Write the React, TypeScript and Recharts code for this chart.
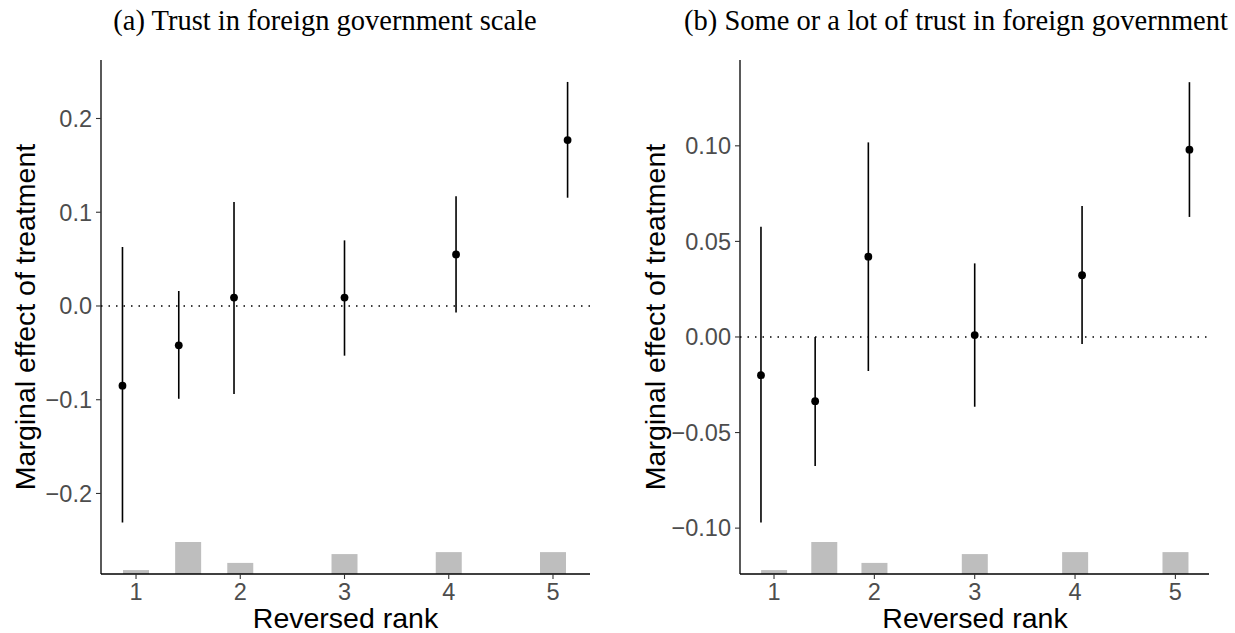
import React from 'react';
import { ComposedChart, Scatter, Bar, XAxis, YAxis, ReferenceLine, ErrorBar } from 'recharts';

// x positions (reversed rank) of the estimates and of the histogram bins
const rankTicks = [1, 2, 3, 4, 5];
const pointX = [0.87, 1.41, 1.94, 3.0, 4.07, 5.14];
const histX = [1, 1.5, 2, 3, 4, 5];
const histCounts = [12, 98, 34, 61, 67, 67];

// (a) Trust in foreign government scale
const scaleEst = [-0.085, -0.042, 0.009, 0.009, 0.055, 0.177];
const scaleLow = [-0.231, -0.099, -0.094, -0.053, -0.007, 0.1155];
const scaleHigh = [0.063, 0.016, 0.111, 0.07, 0.117, 0.239];
const scaleTicks = [-0.2, -0.1, 0, 0.1, 0.2];

// (b) Some or a lot of trust in foreign government
const binEst = [-0.02, -0.0336, 0.042, 0.001, 0.0323, 0.098];
const binLow = [-0.097, -0.0675, -0.0178, -0.0365, -0.0037, 0.0628];
const binHigh = [0.0577, 0.0, 0.1018, 0.0385, 0.0685, 0.1333];
const binTicks = [-0.1, -0.05, 0, 0.05, 0.1];

const histRows = histX.map((x, i) => ({ x, n: histCounts[i] }));
const makePoints = (est: number[], lo: number[], hi: number[]) =>
  pointX.map((x, i) => ({ x, y: est[i], err: [est[i] - lo[i], hi[i] - est[i]] }));

const SANS = 'Liberation Sans, Arial, sans-serif';
const SERIF = 'Liberation Serif, Times New Roman, serif';
const TICK_FONT = 23.5;
const TITLE_FONT = 28.5;

const Dot = (props: any) => <circle cx={props.cx} cy={props.cy} r={3.9} fill="#000" />;

const HistBar = (props: any) => {
  const w = 26;
  if (props.height == null || isNaN(props.height)) return null;
  return (
    <rect
      x={props.x + props.width / 2 - w / 2}
      y={props.y}
      width={w}
      height={props.height}
      fill="#BEBEBE"
    />
  );
};

const minus = (s: string) => s.replace('-', '\u2212');

function Panel(props: {
  left: number;
  width: number;
  yAxisWidth: number;
  rightMargin: number;
  xDomain: [number, number];
  yDomain: [number, number];
  yTicks: number[];
  digits: number;
  points: any[];
}) {
  const { left, width, yAxisWidth, rightMargin, xDomain, yDomain, yTicks, digits, points } = props;
  return (
    <div style={{ position: 'absolute', left, top: 0 }}>
      <ComposedChart
        width={width}
        height={633}
        data={histRows}
        margin={{ top: 60, right: rightMargin, bottom: 0, left: 0 }}
      >
        <XAxis
          dataKey="x"
          type="number"
          domain={xDomain}
          allowDataOverflow
          ticks={rankTicks}
          height={59}
          tickSize={5}
          tickMargin={4}
          axisLine={{ stroke: '#000', strokeWidth: 1.3 }}
          tickLine={{ stroke: '#333', strokeWidth: 1.1 }}
          tick={{ fill: '#4D4D4D', fontSize: TICK_FONT, fontFamily: SANS }}
        />
        <YAxis
          yAxisId="main"
          type="number"
          domain={yDomain}
          allowDataOverflow
          ticks={yTicks}
          width={yAxisWidth}
          tickSize={5}
          tickMargin={4}
          tickFormatter={(v: number) => minus(v.toFixed(digits))}
          axisLine={{ stroke: '#000', strokeWidth: 1.3 }}
          tickLine={{ stroke: '#333', strokeWidth: 1.1 }}
          tick={{ fill: '#4D4D4D', fontSize: TICK_FONT, fontFamily: SANS }}
        />
        <YAxis yAxisId="hist" orientation="right" width={0} hide domain={[0, 1574]} allowDataOverflow />
        <Bar
          yAxisId="hist"
          dataKey="n"
          fill="#BEBEBE"
          shape={<HistBar />}
          isAnimationActive={false}
        />
        <ReferenceLine
          yAxisId="main"
          y={0}
          stroke="#000"
          strokeWidth={1.3}
          strokeDasharray="1.5 6"
        />
        <Scatter
          yAxisId="main"
          data={points}
          dataKey="y"
          shape={<Dot />}
          isAnimationActive={false}
        >
          <ErrorBar dataKey="err" direction="y" width={0} stroke="#000" strokeWidth={1.6} />
        </Scatter>
      </ComposedChart>
    </div>
  );
}

export default function App() {
  return (
    <div style={{ position: 'absolute', left: 0, top: 0, width: 1235, height: 633, background: '#fff' }}>
      <Panel
        left={0}
        width={617}
        yAxisWidth={101}
        rightMargin={27}
        xDomain={[0.664, 5.355]}
        yDomain={[-0.2859, 0.2624]}
        yTicks={scaleTicks}
        digits={1}
        points={makePoints(scaleEst, scaleLow, scaleHigh)}
      />
      <Panel
        left={617}
        width={618}
        yAxisWidth={123}
        rightMargin={26}
        xDomain={[0.661, 5.335]}
        yDomain={[-0.124, 0.1449]}
        yTicks={binTicks}
        digits={2}
        points={makePoints(binEst, binLow, binHigh)}
      />
      <svg
        width={1235}
        height={633}
        style={{ position: 'absolute', left: 0, top: 0, pointerEvents: 'none' }}
      >
        <text x={325} y={30} textAnchor="middle" fontFamily={SERIF} fontSize={TITLE_FONT} fill="#000">
          (a) Trust in foreign government scale
        </text>
        <text x={956} y={30} textAnchor="middle" fontFamily={SERIF} fontSize={TITLE_FONT} fill="#000">
          (b) Some or a lot of trust in foreign government
        </text>
        <text
          transform="translate(25, 317) rotate(-90)"
          textAnchor="middle"
          dominantBaseline="central"
          fontFamily={SANS}
          fontSize={TITLE_FONT}
          fill="#000"
        >
          Marginal effect of treatment
        </text>
        <text
          transform="translate(655, 317) rotate(-90)"
          textAnchor="middle"
          dominantBaseline="central"
          fontFamily={SANS}
          fontSize={TITLE_FONT}
          fill="#000"
        >
          Marginal effect of treatment
        </text>
        <text x={345.5} y={628} textAnchor="middle" fontFamily={SANS} fontSize={TITLE_FONT} fill="#000">
          Reversed rank
        </text>
        <text x={975} y={628} textAnchor="middle" fontFamily={SANS} fontSize={TITLE_FONT} fill="#000">
          Reversed rank
        </text>
      </svg>
    </div>
  );
}
